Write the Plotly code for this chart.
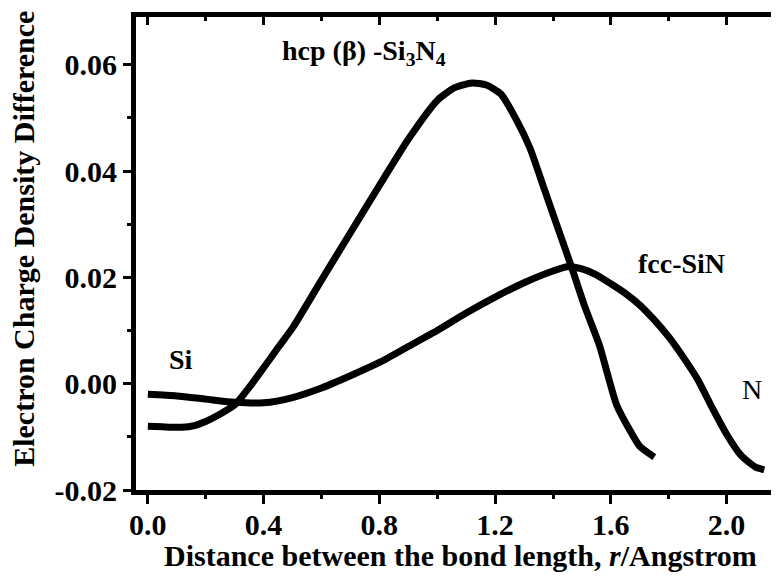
import plotly.graph_objects as go

# ---- data ----
hcp_x = [0.00, 0.05, 0.10, 0.15, 0.20, 0.25, 0.30, 0.35, 0.40, 0.45, 0.50, 0.60, 0.70, 0.80,
         0.90, 1.00, 1.06, 1.12, 1.17, 1.22, 1.275, 1.32, 1.37, 1.42, 1.465, 1.51, 1.56,
         1.62, 1.666, 1.70, 1.75]
hcp_y = [-0.0080, -0.0081, -0.0082, -0.0080, -0.0071, -0.0057, -0.0040, -0.0007, 0.0030,
         0.0068, 0.0105, 0.0195, 0.0284, 0.0373, 0.0460, 0.0533, 0.0557, 0.0566, 0.0562,
         0.0545, 0.0495, 0.0444, 0.0366, 0.0288, 0.0218, 0.0145, 0.0073, -0.0040, -0.0088,
         -0.0118, -0.0138]

fcc_x = [0.00, 0.10, 0.20, 0.30, 0.40, 0.50, 0.60, 0.70, 0.80, 0.90, 1.00, 1.10, 1.20, 1.30,
         1.40, 1.45, 1.50, 1.55, 1.60, 1.65, 1.70, 1.75, 1.80, 1.85, 1.90, 1.95, 2.00, 2.05,
         2.10, 2.13]
fcc_y = [-0.0020, -0.0023, -0.0029, -0.0035, -0.0036, -0.0026, -0.0008, 0.0015, 0.0040,
         0.0070, 0.0100, 0.0133, 0.0163, 0.0190, 0.0212, 0.0220, 0.0216, 0.0205, 0.0188,
         0.0170, 0.0148, 0.0120, 0.0088, 0.0050, 0.0008, -0.0045, -0.0095, -0.0135,
         -0.0157, -0.0162]

x_ticks = [0.0, 0.4, 0.8, 1.2, 1.6, 2.0]
x_tick_labels = ["0.0", "0.4", "0.8", "1.2", "1.6", "2.0"]
y_ticks = [-0.02, 0.00, 0.02, 0.04, 0.06]
y_tick_labels = ["-0.02", "0.00", "0.02", "0.04", "0.06"]

labels_text = ["Si", "hcp (β) -Si<sub>3</sub>N<sub>4</sub>", "fcc-SiN", "N"]
labels_x = [0.113, 0.748, 1.845, 2.087]
labels_y = [0.0045, 0.0624, 0.0226, -0.0011]
labels_bold = [True, True, True, False]

x_range = [-0.041, 2.181]
y_range = [-0.02, 0.069]

FONT = "Liberation Serif, Times New Roman, serif"

fig = go.Figure()
fig.add_trace(go.Scatter(x=hcp_x, y=hcp_y, mode="lines",
                         line=dict(color="black", width=7, shape="spline", smoothing=0.6),
                         showlegend=False, hoverinfo="skip"))
fig.add_trace(go.Scatter(x=fcc_x, y=fcc_y, mode="lines",
                         line=dict(color="black", width=7, shape="spline", smoothing=0.6),
                         showlegend=False, hoverinfo="skip"))
# invisible trace to anchor the mirrored (top/right) axes
fig.add_trace(go.Scatter(x=[x_range[0]], y=[y_range[0]], xaxis="x2", yaxis="y2",
                         mode="markers", marker=dict(opacity=0), showlegend=False,
                         hoverinfo="skip"))

tickfont = dict(family=FONT, size=30, color="black", weight="bold")

# the page body has an 8 px margin, so the figure is 8 px smaller than the window
fig.update_layout(
    width=771, height=569,
    margin=dict(l=128, r=0, t=9, b=87),
    paper_bgcolor="white", plot_bgcolor="white",
    showlegend=False,
    xaxis=dict(range=x_range, tickvals=x_ticks, ticktext=x_tick_labels,
               showgrid=False, zeroline=False, showline=True, linecolor="black", linewidth=5,
               ticks="outside", ticklen=9, tickwidth=3, tickcolor="black",
               ticklabelstandoff=-5,
               minor=dict(dtick=0.2, tick0=0, ticks="outside", ticklen=4, tickwidth=3,
                          tickcolor="black", showgrid=False),
               tickfont=tickfont),
    yaxis=dict(range=y_range, tickvals=y_ticks, ticktext=y_tick_labels,
               showgrid=False, zeroline=False, showline=True, linecolor="black", linewidth=5,
               ticks="outside", ticklen=8, tickwidth=3, tickcolor="black",
               minor=dict(dtick=0.01, tick0=0, ticks="outside", ticklen=4, tickwidth=3,
                          tickcolor="black", showgrid=False),
               tickfont=tickfont),
    xaxis2=dict(range=x_range, overlaying="x", side="top", anchor="y2",
                tickvals=x_ticks, showticklabels=False,
                showgrid=False, zeroline=False, showline=True, linecolor="black", linewidth=5,
                ticks="inside", ticklen=8, tickwidth=3, tickcolor="black",
                minor=dict(dtick=0.2, tick0=0, ticks="inside", ticklen=4, tickwidth=3,
                           tickcolor="black", showgrid=False)),
    yaxis2=dict(range=y_range, overlaying="y", side="right", anchor="x2",
                tickvals=y_ticks, showticklabels=False,
                showgrid=False, zeroline=False, showline=False,
                ticks="inside", ticklen=5, tickwidth=3, tickcolor="black",
                minor=dict(dtick=0.01, tick0=0, ticks="inside", ticklen=2, tickwidth=2,
                           tickcolor="black", showgrid=False)),
)

# axis titles
fig.add_annotation(text="<b>Electron Charge Density Difference</b>", textangle=-90,
                   xref="paper", yref="paper", x=0, y=0.531, xshift=-112,
                   xanchor="center", yanchor="middle", showarrow=False,
                   font=dict(family=FONT, size=30, color="black"))
fig.add_annotation(text="<b>Distance between the bond length, <i>r</i>/Angstrom</b>",
                   xref="paper", yref="paper", x=0.5054, y=-0.1384,
                   xanchor="center", yanchor="middle", showarrow=False,
                   font=dict(family=FONT, size=30, color="black"))

for t, lx, ly, b in zip(labels_text, labels_x, labels_y, labels_bold):
    fig.add_annotation(text=(f"<b>{t}</b>" if b else t), x=lx, y=ly, xref="x", yref="y",
                       xanchor="center", yanchor="middle", showarrow=False,
                       font=dict(family=FONT, size=28, color="black"))

fig.write_html("out.html")
